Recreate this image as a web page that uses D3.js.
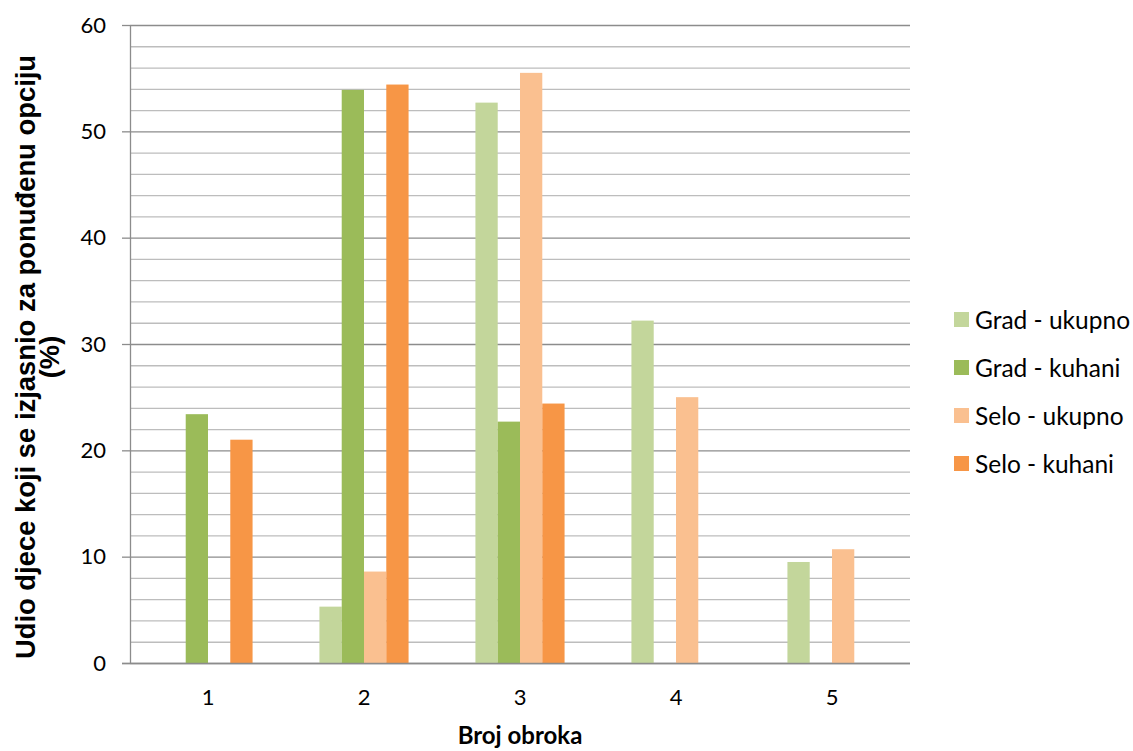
<!DOCTYPE html>
<html>
<head>
<meta charset="utf-8">
<script src="https://cdn.jsdelivr.net/npm/d3@7"></script>
<style>
  body { margin: 0; background: #fff; }
  svg { display: block; }
</style>
</head>
<body>
<svg id="chart" width="1133" height="751"></svg>
<script>
const categories = ["1", "2", "3", "4", "5"];
const seriesNames = ["Grad - ukupno", "Grad - kuhani", "Selo - ukupno", "Selo - kuhani"];
const gradUkupno = [null, 5.3, 52.7, 32.2, 9.5];
const gradKuhani = [23.4, 53.9, 22.7, null, null];
const seloUkupno = [null, 8.6, 55.5, 25.0, 10.7];
const seloKuhani = [21.0, 54.4, 24.4, null, null];
const seriesColors = ["#c3d69b", "#9bbb59", "#fac090", "#f79646"];
const yTicks = [0, 10, 20, 30, 40, 50, 60];
const yTitle1 = "Udio djece koji se izjasnio za ponuđenu opciju";
const yTitle2 = "(%)";
const xTitle = "Broj obroka";

const seriesValues = [gradUkupno, gradKuhani, seloUkupno, seloKuhani];
const svg = d3.select("#chart");
const pLeft = 130, pRight = 910, pTop = 25, pBottom = 663;

const x = d3.scaleBand().domain(categories).range([pLeft, pRight]).paddingInner(0).paddingOuter(0);
const xs = d3.scaleBand().domain(seriesNames).range([0, x.bandwidth()]).paddingInner(0).paddingOuter(1.5);
const y = d3.scaleLinear().domain([0, 60]).range([pBottom, pTop]);

// minor gridlines
const minor = d3.range(2, 60, 2).filter(v => v % 10 !== 0);
svg.append("g").selectAll("line").data(minor).join("line")
  .attr("x1", pLeft).attr("x2", pRight)
  .attr("y1", d => y(d) + 0.5).attr("y2", d => y(d) + 0.5)
  .attr("stroke", "#bdbdbd").attr("stroke-width", 1.3);

// major gridlines + ticks via axis
const yAxis = d3.axisLeft(y).tickValues(yTicks).tickSize(8).tickPadding(16);
const gy = svg.append("g").attr("transform", `translate(${pLeft},0)`).call(yAxis);
gy.select(".domain").remove();
gy.selectAll(".tick line").attr("stroke", "#8c8c8c").attr("stroke-width", 1.3);
gy.selectAll(".tick").append("line")
  .attr("x1", 0).attr("x2", pRight - pLeft)
  .attr("stroke", "#8c8c8c").attr("stroke-width", 1.3);
gy.selectAll(".tick text")
  .attr("font-family", "Lato, 'Open Sans', sans-serif")
  .attr("font-size", 22).attr("fill", "#000");

// bars
const flat = [];
categories.forEach((c, i) => {
  seriesNames.forEach((s, j) => {
    const v = seriesValues[j][i];
    if (v !== null) flat.push({ c, s, v, color: seriesColors[j] });
  });
});
svg.append("g").selectAll("rect").data(flat).join("rect")
  .attr("x", d => x(d.c) + xs(d.s))
  .attr("width", xs.bandwidth())
  .attr("y", d => y(d.v))
  .attr("height", d => y(0) - y(d.v))
  .attr("fill", d => d.color);

// y spine
svg.append("line").attr("x1", pLeft + 0.5).attr("x2", pLeft + 0.5)
  .attr("y1", pTop).attr("y2", pBottom)
  .attr("stroke", "#8c8c8c").attr("stroke-width", 1.3);
// x baseline
svg.append("line").attr("x1", pLeft - 8).attr("x2", pRight)
  .attr("y1", pBottom + 0.5).attr("y2", pBottom + 0.5)
  .attr("stroke", "#8c8c8c").attr("stroke-width", 1.5);

// x axis labels
const xAxis = d3.axisBottom(x).tickSize(0).tickPadding(26);
const gx = svg.append("g").attr("transform", `translate(0,${pBottom})`).call(xAxis);
gx.select(".domain").remove();
gx.selectAll(".tick text")
  .attr("font-family", "Lato, 'Open Sans', sans-serif")
  .attr("font-size", 22).attr("fill", "#000");

// axis titles
svg.append("text")
  .attr("transform", `translate(520,738)`)
  .attr("text-anchor", "middle").attr("dominant-baseline", "middle")
  .attr("font-family", "Lato, 'Open Sans', sans-serif").attr("font-weight", "bold")
  .attr("font-size", 24).attr("fill", "#000").text(xTitle);

const yt = svg.append("text")
  .attr("transform", `translate(35,357) rotate(-90)`)
  .attr("text-anchor", "middle")
  .attr("font-family", "'Liberation Sans', Arial, sans-serif").attr("font-weight", "bold")
  .attr("font-size", 27.4).attr("fill", "#000");
yt.append("tspan").attr("x", 0).attr("y", 0).text(yTitle1);
yt.append("tspan").attr("x", 0).attr("y", 24).text(yTitle2);

// legend
const lg = svg.append("g").selectAll("g").data(seriesNames).join("g")
  .attr("transform", (d, i) => `translate(954,${312 + i * 48})`);
lg.append("rect").attr("width", 15).attr("height", 15).attr("fill", (d, i) => seriesColors[i]);
lg.append("text").attr("x", 21).attr("y", 7.5).attr("dominant-baseline", "central")
  .attr("font-family", "Lato, 'Open Sans', sans-serif")
  .attr("font-size", 24.5).attr("fill", "#000").text(d => d);
</script>
</body>
</html>
